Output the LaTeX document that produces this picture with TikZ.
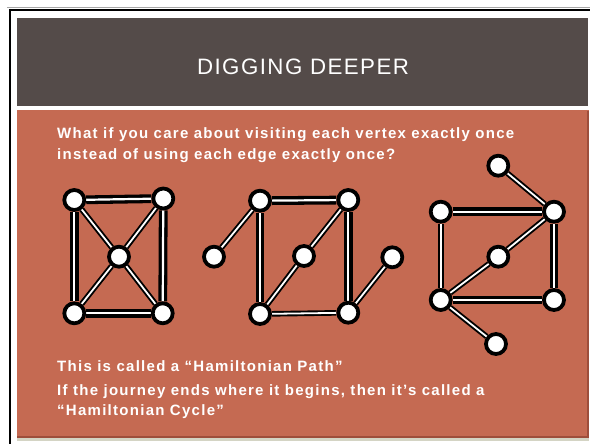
\documentclass[tikz,border=0pt]{standalone}
\usepackage{fontspec}
\setmainfont{Liberation Sans}
\newfontfamily\bodyfont[LetterSpace=8.5]{Liberation Sans}
\newfontfamily\titlefont[LetterSpace=6.5]{Liberation Sans}
\definecolor{hdr}{HTML}{544B49}
\definecolor{rust}{HTML}{C56A52}
\definecolor{rustdark}{HTML}{9E4E3B}
\definecolor{shadow}{HTML}{D4D4C4}
\pgfdeclarelayer{back}
\pgfdeclarelayer{edges}
\pgfsetlayers{back,edges,main}
\begin{document}
\begin{tikzpicture}[x=1pt,y=-1pt,
  vtx/.style={circle, draw=black, fill=white, line width=3.8pt, minimum size=20pt, inner sep=0pt},
  thinedge/.style={draw=black, double=white, double distance=1.8pt, line width=1.9pt},
  thickedge/.style={draw=black, double=white, double distance=2.2pt, line width=3.3pt},
  bodytext/.style={anchor=base west, inner sep=0pt, text=white, font=\bodyfont\bfseries\fontsize{15}{17}\selectfont}]
\useasboundingbox (0,0) rectangle (590,444);
\begin{pgfonlayer}{back}
  \fill[white] (0,0) rectangle (590,444);
  \draw[gray!70, line width=1pt] (7,7.5) -- (590,7.5);
  \draw[black, line width=2pt] (9,10) -- (590,10);
  \draw[black, line width=2pt] (9.7,9) -- (9.7,444);
  \fill[hdr] (16.5,18) rectangle (588,106);
  \fill[shadow] (17,112) rectangle (589,440.5);
  \fill[rust] (17,110.5) rectangle (588.5,437);
  \draw[rustdark, line width=1.2pt] (588,111) -- (588,437) -- (17,437);
\end{pgfonlayer}
\node[anchor=base, inner sep=0pt, text=white, font=\titlefont\fontsize{22.3}{24}\selectfont] (title) at (303,74.3) {DIGGING DEEPER};
\node[bodytext] (q1) at (57,139) {What if you care about visiting each vertex exactly once};
\node[bodytext] (q2) at (57,159.5) {instead of using each edge exactly once?};
\node[bodytext] (p1) at (57,371.7) {This is called a “Hamiltonian Path”};
\node[bodytext] (p2) at (57,395) {If the journey ends where it begins, then it’s called a};
\node[bodytext] (p3) at (57,415) {“Hamiltonian Cycle”};
% graph 1
\node[vtx] (a1) at (74.3,200) {};
\node[vtx] (a2) at (163.3,198.5) {};
\node[vtx] (a3) at (119,256.7) {};
\node[vtx] (a4) at (74.3,313.3) {};
\node[vtx] (a5) at (162.7,313.3) {};
% graph 2
\node[vtx] (b0) at (214,256.7) {};
\node[vtx] (b1) at (260,200.7) {};
\node[vtx] (b2) at (348.3,200) {};
\node[vtx] (b3) at (304,256) {};
\node[vtx] (b4) at (260,314) {};
\node[vtx] (b5) at (348.3,312.7) {};
\node[vtx] (b6) at (392.3,257.3) {};
% graph 3
\node[vtx] (c0) at (498.3,165.7) {};
\node[vtx] (c1) at (440.7,211.7) {};
\node[vtx] (c2) at (554,211.7) {};
\node[vtx] (c3) at (498.3,256.7) {};
\node[vtx] (c4) at (440.7,300) {};
\node[vtx] (c5) at (554,300) {};
\node[vtx] (c6) at (496,344) {};
\begin{pgfonlayer}{edges}
  \draw[thickedge] (a1) -- (a2);
  \draw[thickedge] (a1) -- (a4);
  \draw[thickedge] (a2) -- (a5);
  \draw[thickedge] (a4) -- (a5);
  \draw[thinedge] (a1) -- (a3);
  \draw[thinedge] (a3) -- (a5);
  \draw[thinedge] (a2) -- (a3);
  \draw[thinedge] (a3) -- (a4);
  \draw[thinedge] (b0) -- (b1);
  \draw[thickedge] (b1) -- (b2);
  \draw[thickedge] (b1) -- (b4);
  \draw[thickedge] (b2) -- (b5);
  \draw[thinedge] (b2) -- (b3);
  \draw[thinedge] (b3) -- (b4);
  \draw[thinedge] (b4) -- (b5);
  \draw[thinedge] (b5) -- (b6);
  \draw[thinedge] (c0) -- (c2);
  \draw[thickedge] (c1) -- (c2);
  \draw[thickedge] (c2) -- (c5);
  \draw[thinedge] (c1) -- (c4);
  \draw[thinedge] (c2) -- (c3);
  \draw[thinedge] (c3) -- (c4);
  \draw[thickedge] (c4) -- (c5);
  \draw[thinedge] (c4) -- (c6);
\end{pgfonlayer}
\end{tikzpicture}
\end{document}
